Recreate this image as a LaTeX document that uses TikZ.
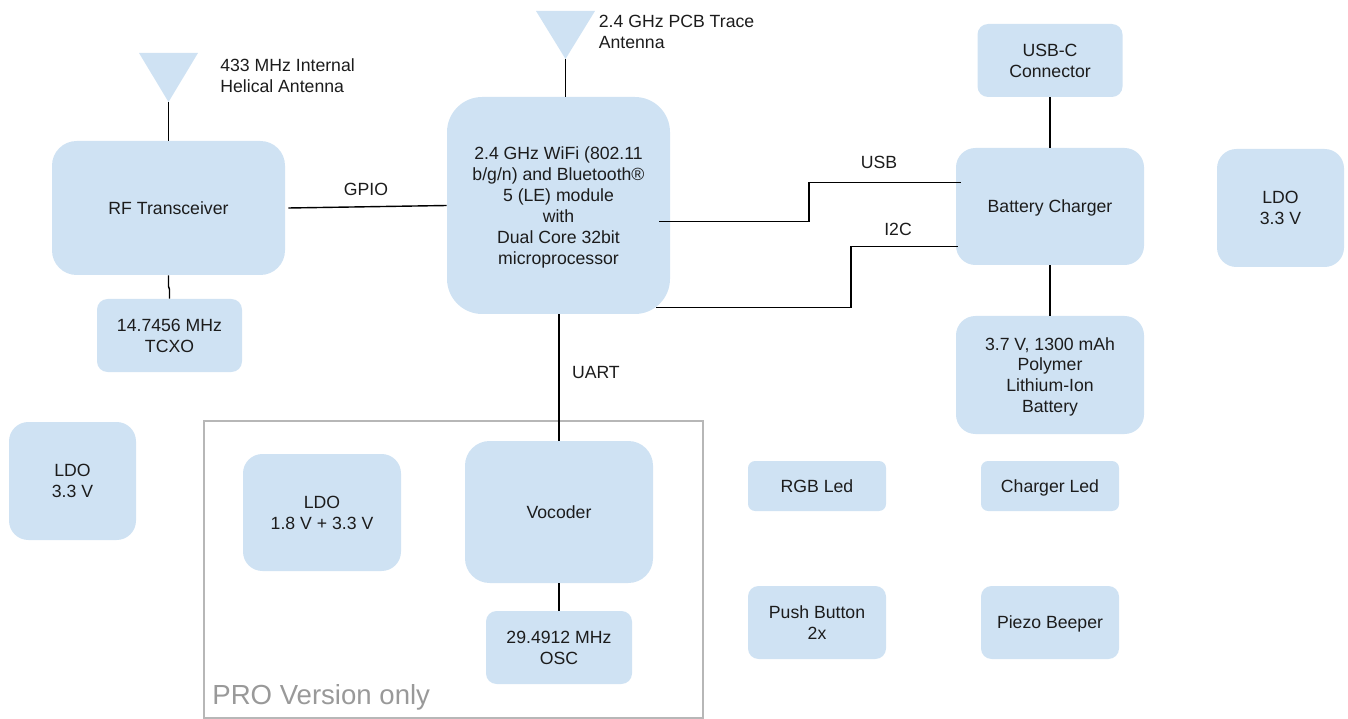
\documentclass[tikz,border=0pt]{standalone}
\usepackage{fontspec}
\setmainfont{Liberation Sans}
\definecolor{boxblue}{HTML}{CFE2F3}
\definecolor{framegray}{HTML}{B7B7B7}
\definecolor{progray}{HTML}{999999}
\definecolor{textdark}{HTML}{1C1C1C}
\tikzset{
	boxsize/.style 2 args={minimum width=#1*0.02cm, minimum height=#2*0.02cm},
	blockbox/.style={fill=boxblue, text=textdark, align=center, inner sep=0pt, text depth=-0.8pt, rounded corners=#1},
	blockbox/.default=11pt,
	wire/.style={line width=0.8pt, black},
	caption/.style={text=textdark, inner sep=0pt, align=left},
}
\begin{document}
\begin{tikzpicture}[x=0.02cm, y=-0.02cm, font=\fontsize{10.05}{11.9}\selectfont]
	\useasboundingbox (0,0) rectangle (1348,719);

	% Frame of the PRO parts
	\node[draw=framegray, line width=0.65pt, boxsize={499}{297}, inner sep=0pt] (proframe) at (453.5,569.5) {};
	\node[caption, text=progray, anchor=west, font=\fontsize{15.7}{18}\selectfont] (prolabel) at (212,697.5) {PRO Version only};

	% Antennas
	\fill[boxblue] (139,53) -- (198,53) -- (168.5,102) -- cycle;
	\coordinate (helicaltip) at (168.5,102);
	\node[caption, anchor=west] (helicallabel) at (220,75.5) {433 MHz Internal\\Helical Antenna};

	\fill[boxblue] (536,11) -- (595,11) -- (565.5,59) -- cycle;
	\coordinate (pcbtip) at (565.5,59);
	\node[caption, anchor=west] (pcblabel) at (598.5,32) {2.4 GHz PCB Trace\\Antenna};

	% Radio side
	\node[blockbox=14pt, boxsize={233}{134}] (rf) at (168.5,208) {RF Transceiver};
	\node[blockbox=6pt, boxsize={145}{73}] (tcxo) at (169.5,335.5) {14.7456 MHz\\TCXO};

	% Main module
	\node[blockbox=20pt, boxsize={223}{217}] (mcu) at (558.5,205.5) {2.4 GHz WiFi (802.11\\b/g/n) and Bluetooth®\\5 (LE) module\\with\\Dual Core 32bit\\microprocessor};

	% Power side
	\node[blockbox=6pt, boxsize={145}{73}] (usbc) at (1050,60.5) {USB-C\\Connector};
	\node[blockbox=11pt, boxsize={188}{117}] (charger) at (1050,206.5) {Battery Charger};
	\node[blockbox=11pt, boxsize={188}{118}] (battery) at (1050,375) {3.7 V, 1300 mAh\\Polymer\\Lithium-Ion\\Battery};
	\node[blockbox=11pt, boxsize={127}{118}] (ldoright) at (1280.5,208) {LDO\\3.3 V};
	\node[blockbox=11pt, boxsize={127}{118}] (ldoleft) at (72.5,481) {LDO\\3.3 V};

	% PRO parts
	\node[blockbox=11pt, boxsize={158}{117}] (ldopro) at (322,512.5) {LDO\\1.8 V + 3.3 V};
	\node[blockbox=14pt, boxsize={188}{142}] (vocoder) at (559,512) {Vocoder};
	\node[blockbox=6pt, boxsize={146}{73}] (osc) at (559,647.5) {29.4912 MHz\\OSC};

	% Small parts
	\node[blockbox=4pt, boxsize={138}{50}] (rgbled) at (817,486) {RGB Led};
	\node[blockbox=4pt, boxsize={138}{50}] (chargerled) at (1050,486) {Charger Led};
	\node[blockbox=6pt, boxsize={138}{73}] (button) at (817,622.5) {Push Button\\2x};
	\node[blockbox=6pt, boxsize={138}{73}] (beeper) at (1050,622.5) {Piezo Beeper};

	% Wires
	\draw[wire] (helicaltip) -- (rf.north);
	\draw[wire] (rf.south) -- ++(0,11) -- ++(1,3) -- (tcxo.north);
	\draw[wire] ([shift={(3,0)}]rf.east) -- (mcu.west) node[pos=0.49, above=6pt, inner sep=0pt, text=textdark] (gpiolabel) {GPIO};
	\draw[wire] (pcbtip) -- (mcu.north -| pcbtip);
	\draw[wire] (usbc.south) -- (charger.north);
	\draw[wire] (charger.south) -- (battery.north);
	\draw[wire] (vocoder.south) -- (osc.north);
	\draw[wire] (vocoder.north |- mcu.south) -- (vocoder.north) node[pos=0.46, right=7pt, inner sep=0pt, text=textdark] (uartlabel) {UART};

	% Wires with a step, they start and end inside the boxes
	\coordinate (usbstep) at (809,202);
	\coordinate (i2cstep) at (851,276);
	\draw[wire] ([shift={(-11,16)}]mcu.east) -| (usbstep) |- ([shift={(5,-24)}]charger.west);
	\draw[wire] ([shift={(-14,102)}]mcu.east) -| (i2cstep) |- ([shift={(2,40)}]charger.west);
	\node[text=textdark, inner sep=0pt] (usblabel) at (879,162) {USB};
	\node[text=textdark, inner sep=0pt] (i2clabel) at (898,229) {I2C};
\end{tikzpicture}
\end{document}
